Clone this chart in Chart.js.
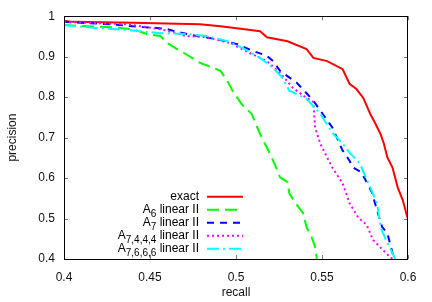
<!DOCTYPE html>
<html>
<head>
<meta charset="utf-8">
<script src="https://cdn.jsdelivr.net/npm/chart.js@4/dist/chart.umd.min.js"></script>
<style>
  html, body { margin: 0; padding: 0; background: #fff; }
</style>
</head>
<body>
<canvas id="chart" width="432" height="302"></canvas>
<script>
// values
var exactRecall = [0.400, 0.405, 0.440, 0.479, 0.491, 0.505, 0.514, 0.518, 0.530, 0.541, 0.545, 0.553, 0.562, 0.566, 0.570, 0.574, 0.578, 0.581, 0.584, 0.586, 0.588, 0.591, 0.594, 0.597, 0.5995, 0.600];
var exactPrecision = [0.989, 0.986, 0.984, 0.980, 0.975, 0.968, 0.963, 0.948, 0.938, 0.919, 0.897, 0.889, 0.869, 0.833, 0.820, 0.798, 0.759, 0.735, 0.709, 0.685, 0.651, 0.626, 0.577, 0.545, 0.505, 0.500];

var a6Recall = [0.400, 0.427, 0.440, 0.448, 0.456, 0.460, 0.466, 0.471, 0.479, 0.485, 0.491, 0.495, 0.498, 0.503, 0.509, 0.514, 0.518, 0.5216, 0.5256, 0.530, 0.531, 0.5355, 0.539, 0.541, 0.544, 0.546, 0.547];
var a6Precision = [0.978, 0.973, 0.968, 0.956, 0.951, 0.934, 0.918, 0.906, 0.885, 0.875, 0.865, 0.840, 0.816, 0.784, 0.759, 0.709, 0.675, 0.643, 0.602, 0.590, 0.562, 0.533, 0.513, 0.479, 0.454, 0.430, 0.400];

var a7Recall = [0.400, 0.427, 0.446, 0.454, 0.460, 0.466, 0.475, 0.489, 0.5006, 0.510, 0.518, 0.5216, 0.5256, 0.5355, 0.545, 0.552, 0.556, 0.562, 0.566, 0.568, 0.573, 0.579, 0.582, 0.585, 0.588, 0.591, 0.592];
var a7Precision = [0.986, 0.980, 0.973, 0.971, 0.968, 0.961, 0.953, 0.943, 0.931, 0.914, 0.902, 0.889, 0.865, 0.835, 0.791, 0.749, 0.725, 0.668, 0.643, 0.626, 0.614, 0.565, 0.520, 0.479, 0.464, 0.415, 0.400];

var a7444Recall = [0.400, 0.437, 0.456, 0.471, 0.483, 0.4965, 0.508, 0.518, 0.5256, 0.533, 0.541, 0.545, 0.546, 0.549, 0.553, 0.556, 0.562, 0.566, 0.571, 0.576, 0.5797, 0.5855, 0.5895, 0.591];
var a7444Precision = [0.986, 0.980, 0.968, 0.951, 0.948, 0.934, 0.909, 0.889, 0.860, 0.823, 0.798, 0.788, 0.725, 0.685, 0.651, 0.626, 0.587, 0.538, 0.503, 0.484, 0.447, 0.422, 0.405, 0.400];

var a7666Recall = [0.400, 0.421, 0.437, 0.456, 0.471, 0.483, 0.495, 0.504, 0.514, 0.5216, 0.527, 0.531, 0.541, 0.549, 0.556, 0.562, 0.566, 0.572, 0.578, 0.582, 0.584, 0.588, 0.591, 0.5925];
var a7666Precision = [0.978, 0.970, 0.966, 0.958, 0.956, 0.951, 0.938, 0.921, 0.897, 0.872, 0.848, 0.816, 0.796, 0.759, 0.712, 0.685, 0.663, 0.636, 0.577, 0.538, 0.479, 0.439, 0.415, 0.400];

var labelBase = ['exact', 'A', 'A', 'A', 'A'];
var labelSub = ['', '6', '7', '7,4,4,4', '7,6,6,6'];
var labelTail = ['', ' linear II', ' linear II', ' linear II', ' linear II'];

var xTicks = [0.4, 0.45, 0.5, 0.55, 0.6];
var yTicks = [0.4, 0.5, 0.6, 0.7, 0.8, 0.9, 1];

var FONT = "'Liberation Sans', Arial, sans-serif";
var colors = ['#ff0000', '#00ff00', '#0000ff', '#ff00ff', '#00ffff'];
var dashes = [[], [12, 6], [7, 6], [2, 3], [12, 4, 2, 4]];

function pts(xs, ys) {
    return xs.map(function(x, i) { return { x: x, y: ys[i] }; });
}

var series = [
    pts(exactRecall, exactPrecision),
    pts(a6Recall, a6Precision),
    pts(a7Recall, a7Precision),
    pts(a7444Recall, a7444Precision),
    pts(a7666Recall, a7666Precision)
];

var datasets = series.map(function(d, i) {
    return {
        label: labelBase[i] + labelSub[i] + labelTail[i],
        data: d,
        borderColor: colors[i],
        borderWidth: 2,
        borderDash: dashes[i],
        pointRadius: 0,
        tension: 0,
        fill: false,
        order: 4 - i
    };
});

// frame with inner ticks on all four sides, like gnuplot
var framePlugin = {
    id: 'frame',
    afterDatasetsDraw: function(chart) {
        var ctx = chart.ctx, a = chart.chartArea;
        var xs = chart.scales.x, ys = chart.scales.y;
        ctx.save();
        ctx.strokeStyle = '#777';
        ctx.lineWidth = 1;
        ctx.beginPath();
        xTicks.forEach(function(v) {
            var px = Math.round(xs.getPixelForValue(v)) + 0.5;
            ctx.moveTo(px, a.bottom); ctx.lineTo(px, a.bottom - 4);
            ctx.moveTo(px, a.top); ctx.lineTo(px, a.top + 4);
        });
        yTicks.forEach(function(v) {
            var py = Math.round(ys.getPixelForValue(v)) + 0.5;
            ctx.moveTo(a.left, py); ctx.lineTo(a.left + 4, py);
            ctx.moveTo(a.right, py); ctx.lineTo(a.right - 4, py);
        });
        ctx.stroke();
        ctx.strokeStyle = '#000';
        ctx.strokeRect(Math.round(a.left) + 0.5, Math.round(a.top) + 0.5,
            Math.round(a.right - a.left) - 1, Math.round(a.bottom - a.top));
        ctx.restore();
    }
};

// legend with subscripts
var legendPlugin = {
    id: 'subLegend',
    afterDatasetsDraw: function(chart) {
        var ctx = chart.ctx;
        var textRight = 199, lineX0 = 207, lineX1 = 243;
        ctx.save();
        ctx.textBaseline = 'middle';
        ctx.fillStyle = '#000';
        for (var i = 0; i < datasets.length; i++) {
            var y = 196.7 + i * 13;
            ctx.font = '12px ' + FONT;
            var w1 = ctx.measureText(labelBase[i]).width;
            var w3 = ctx.measureText(labelTail[i]).width;
            ctx.font = '10px ' + FONT;
            var w2 = labelSub[i] ? ctx.measureText(labelSub[i]).width : 0;
            var x = textRight - w1 - w2 - w3;
            ctx.font = '12px ' + FONT;
            ctx.fillText(labelBase[i], x, y - 0.5);
            if (labelSub[i]) {
                ctx.font = '10px ' + FONT;
                ctx.fillText(labelSub[i], x + w1, y + 5);
            }
            ctx.font = '12px ' + FONT;
            ctx.fillText(labelTail[i], x + w1 + w2, y - 0.5);

            ctx.beginPath();
            ctx.strokeStyle = colors[i];
            ctx.lineWidth = 2;
            ctx.setLineDash(dashes[i]);
            ctx.moveTo(lineX0, y);
            ctx.lineTo(lineX1, y);
            ctx.stroke();
            ctx.setLineDash([]);
        }
        ctx.restore();
    }
};

var ctx = document.getElementById('chart').getContext('2d');
var chart = new Chart(ctx, {
    type: 'line',
    data: { datasets: datasets },
    options: {
        responsive: false,
        animation: false,
        layout: { padding: { left: 0, right: 24, top: 15, bottom: 0 } },
        plugins: {
            legend: { display: false },
            tooltip: { enabled: false },
            title: { display: false }
        },
        scales: {
            x: {
                type: 'linear',
                min: 0.4,
                max: 0.6,
                afterBuildTicks: function(scale) {
                    scale.ticks = xTicks.map(function(v) { return { value: v }; });
                },
                afterFit: function(scale) { scale.height = 43; },
                grid: { display: false, drawTicks: false },
                border: { display: false },
                ticks: {
                    padding: 11,
                    color: '#111',
                    maxRotation: 0,
                    font: { family: FONT, size: 12 },
                    callback: function(v) { return String(Number(v.toFixed(2))); }
                },
                title: {
                    display: true,
                    text: 'recall',
                    color: '#111',
                    padding: { top: 0, bottom: 2 },
                    font: { family: FONT, size: 12 }
                }
            },
            y: {
                type: 'linear',
                min: 0.4,
                max: 1,
                afterBuildTicks: function(scale) {
                    scale.ticks = yTicks.map(function(v) { return { value: v }; });
                },
                afterFit: function(scale) { scale.width = 64; },
                grid: { display: false, drawTicks: false },
                border: { display: false },
                ticks: {
                    padding: 9,
                    color: '#111',
                    font: { family: FONT, size: 12 },
                    callback: function(v) { return String(Number(v.toFixed(2))); }
                },
                title: {
                    display: true,
                    text: 'precision',
                    color: '#111',
                    padding: { top: 5, bottom: 0 },
                    font: { family: FONT, size: 12 }
                }
            }
        }
    },
    plugins: [framePlugin, legendPlugin]
});
</script>
</body>
</html>
